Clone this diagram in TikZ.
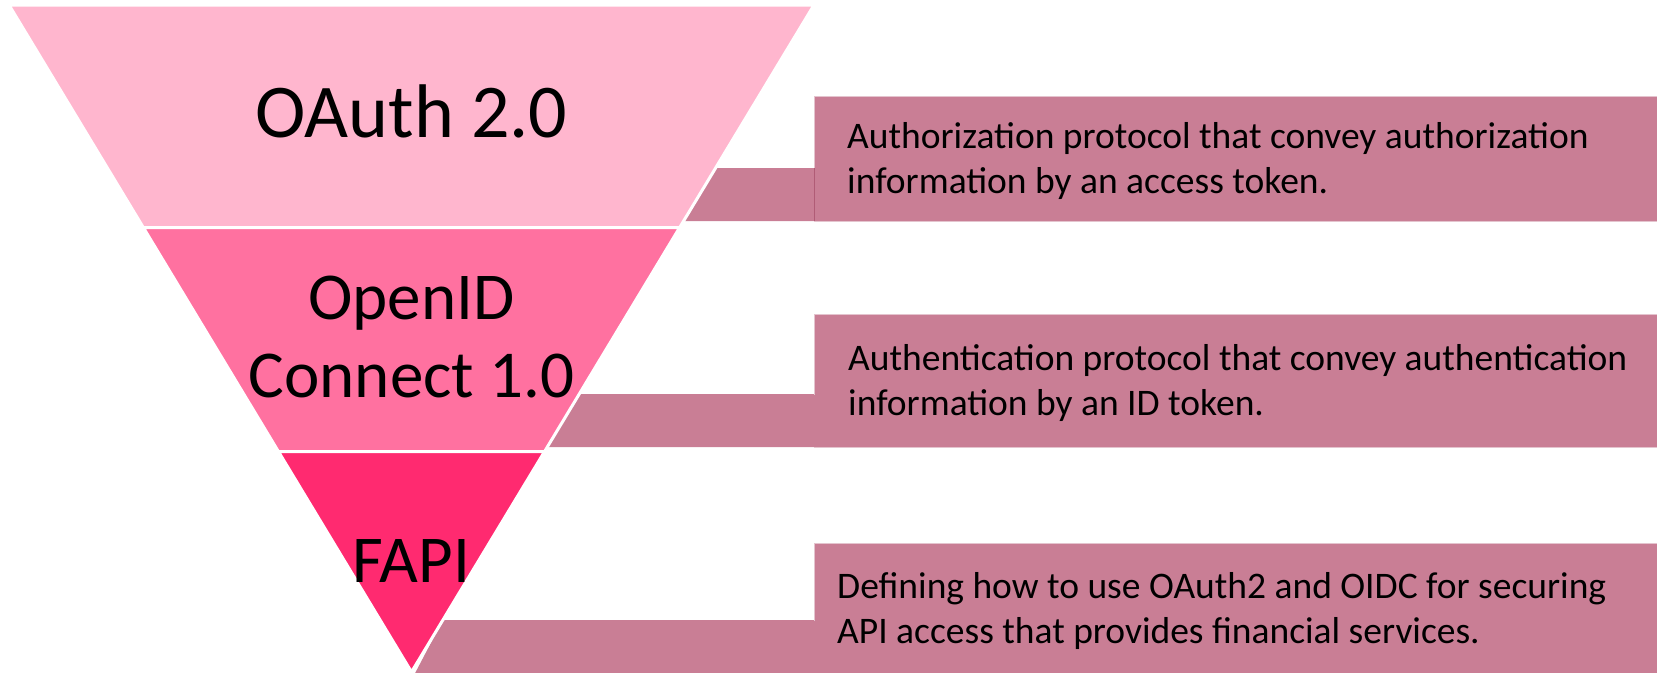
\documentclass[tikz,border=0pt]{standalone}
\usepackage{fontspec}
\setmainfont{Carlito}
\definecolor{layerA}{RGB}{255,182,206}
\definecolor{layerB}{RGB}{255,113,160}
\definecolor{layerC}{RGB}{255,42,112}
\definecolor{note}{RGB}{201,126,149}
\definecolor{noteedge}{RGB}{228,196,206}
\definecolor{noteline}{RGB}{176,92,118}
\tikzset{
  layer/.style={draw=white, line width=3pt, line join=round},
  notebox/.style={fill=note, draw=noteedge, line width=0.8pt},
  % anchor=base of a multi-line node sits on its last line
  title/.style={inner sep=0pt, anchor=base, align=center},
  desc/.style={inner sep=0pt, anchor=base west, align=left,
    font=\fontsize{37.5}{45}\selectfont},
}
\begin{document}
\begin{tikzpicture}[x=1pt,y=-1pt]
\useasboundingbox (0,0) rectangle (1657,672);

% funnel outline points
\coordinate (tl) at (9,5);
\coordinate (tr) at (814,5);
\coordinate (al) at (143.3,227.5);
\coordinate (ar) at (679.7,227.5);
\coordinate (bl) at (278.4,451.5);
\coordinate (br) at (544.6,451.5);
\coordinate (apex) at (411.5,672);

% description panels, each with a step reaching back to the funnel
\fill[note] (715.6,168) -- (814,168) -- (814,221) -- (683.7,221) -- cycle;
\filldraw[notebox] (814,96) rectangle (1680,221);
\draw[noteline, line width=0.8pt] (814,168) -- (814,221);

\fill[note] (579.3,394) -- (814,394) -- (814,447) -- (547.3,447) -- cycle;
\filldraw[notebox] (814,314) rectangle (1680,447);
\fill[note] (810,394.5) rectangle (815,446.5);

\fill[note] (442.9,620) -- (814,620) -- (814,680) -- (411.5,680) -- cycle;
\filldraw[notebox] (814,543) rectangle (1680,690);
\fill[note] (810,620.5) rectangle (815,680);

% funnel layers
\filldraw[layer, fill=layerA] (tl) -- (tr) -- (ar) -- (al) -- cycle;
\filldraw[layer, fill=layerB] (al) -- (ar) -- (br) -- (bl) -- cycle;
\filldraw[layer, fill=layerC] (bl) -- (br) -- (apex) -- cycle;

% layer titles
\node[title, font=\fontsize{76}{90}\selectfont] (oauth) at (411.5,137) {OAuth 2.0};
\node[title, font=\fontsize{67}{78}\selectfont] (oidc) at (411.5,397) {OpenID\\Connect 1.0};
\node[title, font=\fontsize{67}{78}\selectfont] (fapi) at (411.5,582) {FAPI};

% descriptions
\node[desc] (d1) at (847,193) {Authorization protocol that convey authorization\\information by an access token.};
\node[desc] (d2) at (848,415.5) {Authentication protocol that convey authentication\\information by an ID token.};
\node[desc] (d3) at (837,643.5) {Defining how to use OAuth2 and OIDC for securing\\API access that provides financial services.};
\end{tikzpicture}
\end{document}
